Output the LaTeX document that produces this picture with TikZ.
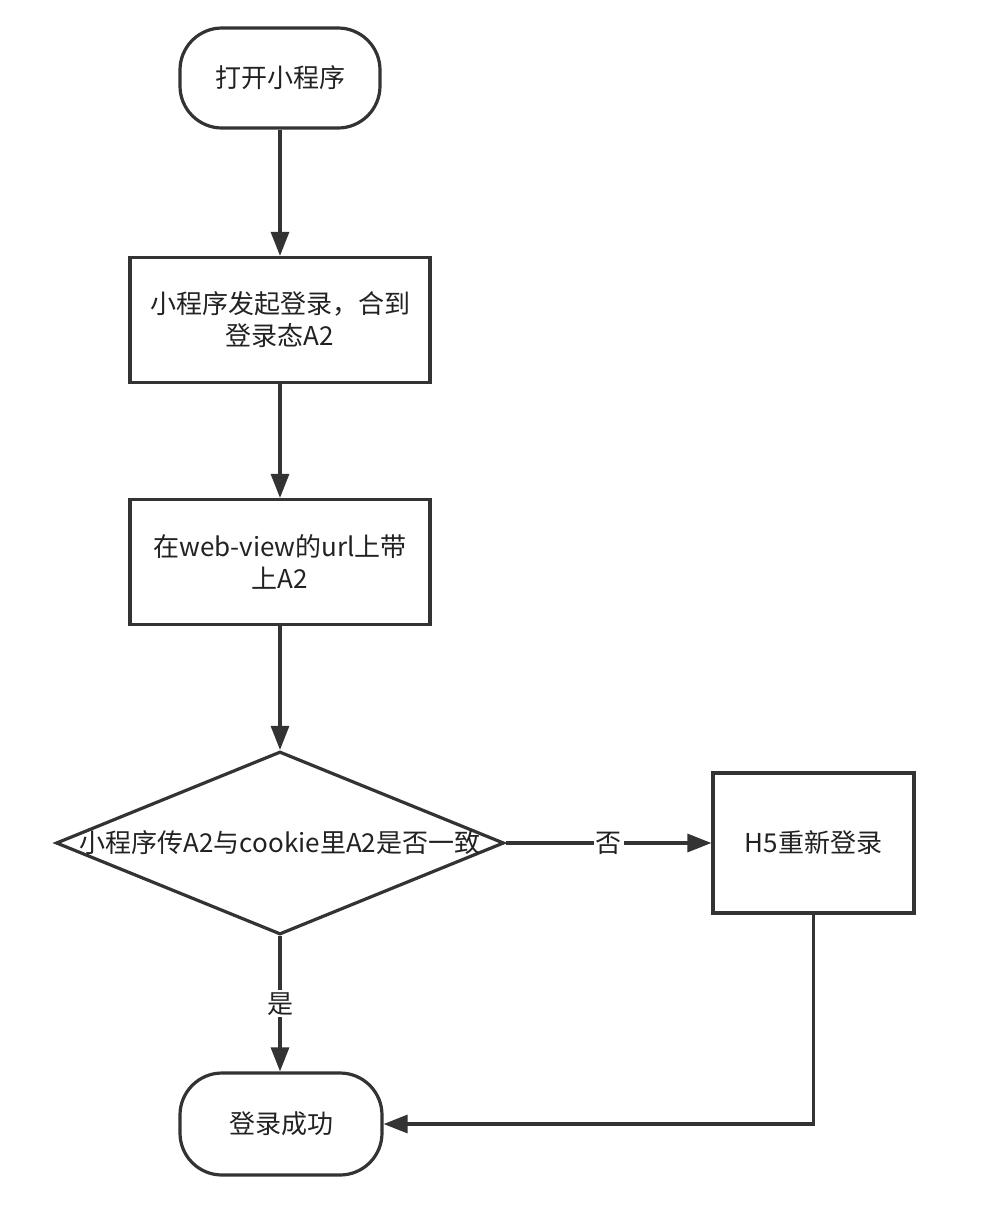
\documentclass[tikz,border=0pt]{standalone}
\usepackage{fontspec}
\setmainfont{Noto Sans CJK SC}
\usetikzlibrary{shapes.geometric,arrows.meta}
\definecolor{ink}{HTML}{333333}
\definecolor{txt}{HTML}{222222}
\begin{document}
\begin{tikzpicture}[x=1pt,y=-1pt,
  every node/.style={text=txt,font=\fontsize{26}{32}\selectfont},
  terminal/.style={draw=ink,line width=3.2pt,rounded corners=42pt,
    minimum width=200pt,minimum height=100pt,inner sep=0pt},
  process/.style={draw=ink,line width=3.2pt,minimum width=300pt,
    minimum height=125pt,inner sep=0pt,align=center},
  decision/.style={draw=ink,line width=3.2pt,diamond,inner sep=0pt,
    minimum width=448pt,minimum height=183pt},
  flow/.style={draw=ink,line width=3.2pt,-{Triangle[length=24pt,width=18pt]}},
  tag/.style={fill=white,inner sep=2pt}]
\useasboundingbox (0,0) rectangle (1002,1224);
\fill[white] (0,0) rectangle (1002,1224);

\node[terminal] (start) at (280,78) {打开小程序};
\node[process] (login) at (280,320) {小程序发起登录，合到\\登录态A2};
\node[process] (url) at (280,562) {在web-view的url上带\\上A2};
\node[decision] (check) at (280,843) {};
\node at (check.center) {小程序传A2与cookie里A2是否一致};
\node[process,minimum width=201pt,minimum height=140pt] (relogin) at (813.5,843) {H5重新登录};
\node[terminal,minimum width=202pt,minimum height=102pt] (done) at (281,1124) {登录成功};

\draw[flow] (start) -- (login);
\draw[flow] (login) -- (url);
\draw[flow] (url) -- (check.north);
\draw[flow] (check.east) -- node[tag] {否} (relogin.west);
\draw[flow] (check.south) -- node[tag] {是} (check.south |- done.north);
\draw[flow] (relogin.south) |- (done.east);
\end{tikzpicture}
\end{document}
